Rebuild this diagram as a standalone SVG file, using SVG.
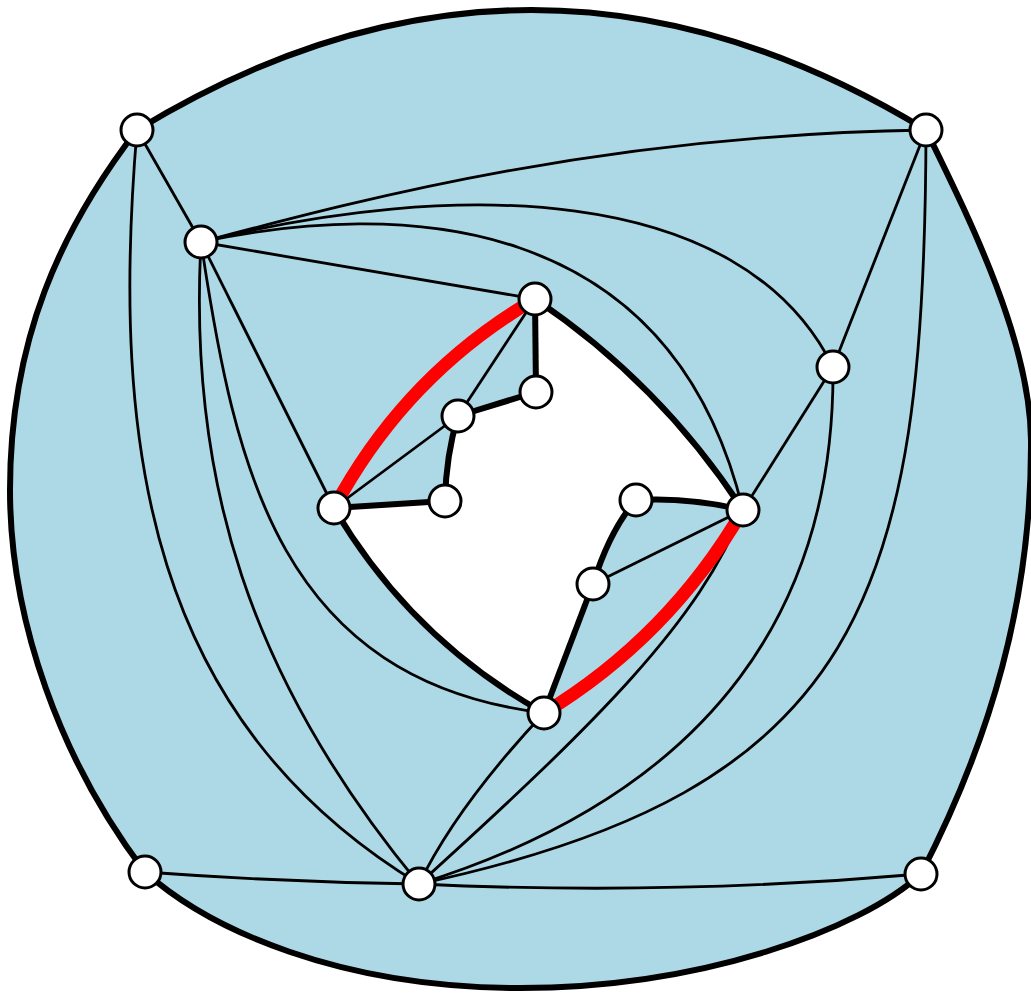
<svg xmlns="http://www.w3.org/2000/svg" width="1031" height="993" viewBox="0 0 1031 993">
<style>
.thin{fill:none;stroke:#000;stroke-width:2.8}
.thick{fill:none;stroke:#000;stroke-width:6}
.red{fill:none;stroke:#f00;stroke-width:13}
.node circle{fill:#fff;stroke:#000;stroke-width:3}
</style>
<rect width="1031" height="993" fill="#fff"/>
<g id="faces">
<path id="region" fill="#add8e6" stroke="#000" stroke-width="6" d="M137,130 Q531,-110 926,130 C970,220 1030,340 1031,440 C1032,600 990,740 921,874 C860,930 700,988 520,988 C340,988 210,930 145,872 C60,760 10,620 10,490 C10,340 60,230 137,130 Z"/>
<path id="hole" fill="#fff" d="M535,299 Q660,383 743,510 Q690,497 636,500 Q610,530 593,584 L544,713 Q411,639 334,508 L445,501 Q446,455 458,416 L536,392 Z"/>
</g>
<g id="edges">
<path class="thin" d="M137,130 L201,242"/>
<path class="thin" d="M137,130 C110,450 150,720 419,884"/>
<path class="thin" d="M201,242 C360,200 600,135 926,130"/>
<path class="thin" d="M201,242 C450,180 740,180 833,367"/>
<path class="thin" d="M201,242 C400,200 670,210 743,510"/>
<path class="thin" d="M201,242 L535,299"/>
<path class="thin" d="M201,242 L334,508"/>
<path class="thin" d="M201,242 C188,480 250,680 419,884"/>
<path class="thin" d="M201,242 C235,470 280,680 544,713"/>
<path class="thin" d="M535,299 L458,416"/>
<path class="thin" d="M458,416 L334,508"/>
<path class="thin" d="M743,510 L593,584"/>
<path class="thin" d="M743,510 L833,367"/>
<path class="thin" d="M926,130 L833,367"/>
<path class="thin" d="M926,130 C925,600 860,790 419,884"/>
<path class="thin" d="M833,367 C835,600 720,790 419,884"/>
<path class="thin" d="M743,510 C700,620 600,720 419,884"/>
<path class="thin" d="M544,713 C500,760 450,820 419,884"/>
<path class="thin" d="M419,884 Q670,896 921,874"/>
<path class="thin" d="M145,872 Q280,882 419,884"/>
<path class="thick" d="M535,299 Q660,383 743,510"/>
<path class="thick" d="M334,508 Q411,639 544,713"/>
<path class="thick" d="M535,299 L536,392"/>
<path class="thick" d="M536,392 L458,416"/>
<path class="thick" d="M458,416 Q446,455 445,501"/>
<path class="thick" d="M445,501 L334,508"/>
<path class="thick" d="M636,500 Q690,497 743,510"/>
<path class="thick" d="M636,500 Q610,530 593,584"/>
<path class="thick" d="M593,584 L544,713"/>
<path class="red" d="M334,508 Q405,375 535,299"/>
<path class="red" d="M544,713 Q669,637 743,510"/>
</g>
<g id="nA" class="node"><circle cx="137" cy="130" r="16"/></g>
<g id="nB" class="node"><circle cx="926" cy="130" r="16"/></g>
<g id="nC" class="node"><circle cx="921" cy="874" r="16"/></g>
<g id="nD" class="node"><circle cx="145" cy="872" r="16"/></g>
<g id="nE" class="node"><circle cx="201" cy="242" r="16"/></g>
<g id="nF" class="node"><circle cx="535" cy="299" r="16"/></g>
<g id="nG" class="node"><circle cx="536" cy="392" r="16"/></g>
<g id="nH" class="node"><circle cx="458" cy="416" r="16"/></g>
<g id="nI" class="node"><circle cx="445" cy="501" r="16"/></g>
<g id="nJ" class="node"><circle cx="334" cy="508" r="16"/></g>
<g id="nK" class="node"><circle cx="636" cy="500" r="16"/></g>
<g id="nL" class="node"><circle cx="743" cy="510" r="16"/></g>
<g id="nM" class="node"><circle cx="593" cy="584" r="16"/></g>
<g id="nN" class="node"><circle cx="544" cy="713" r="16"/></g>
<g id="nO" class="node"><circle cx="833" cy="367" r="16"/></g>
<g id="nP" class="node"><circle cx="419" cy="884" r="16"/></g>
</svg>
